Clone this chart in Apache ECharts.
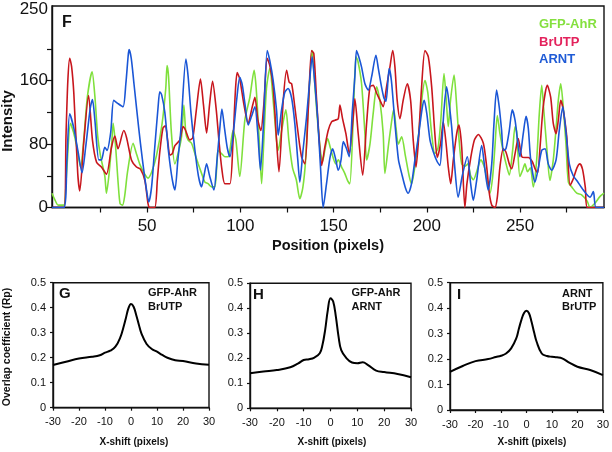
<!DOCTYPE html>
<html><head><meta charset="utf-8">
<script src="https://cdn.jsdelivr.net/npm/echarts@6/dist/echarts.min.js"></script>
<style>html,body{margin:0;padding:0;background:#fff}#c{width:612px;height:452px}</style>
</head><body><div id="c"></div>
<script>
// ---- Panel F: intensity profiles (position in pixels, intensity) ----
const gfpPos = [-1,0.5,2.3,5.3,6.8,8.9,10.5,12,14.3,16,18,20.5,22,23.5,25,27.3,28.2,29.5,31,31.8,33,34.5,35.5,36.8,38,39.5,42.5,44,46,48,50.5,52.5,55,58,60,60.7,61.5,63,64.9,67,68.5,69.7,70.8,72,73.8,75.6,77.4,79.2,81,82.7,84.5,86.3,87.3,88.1,89.9,91.7,93.5,96.1,97.6,99.7,102.4,105.1,107.4,108.5,110,111.4,112.5,114,115.8,117.6,119.4,120.3,122,124.4,126,128,130,131.9,133.5,135,136.5,138.5,139.5,141,143,144.1,145.5,146.8,148.3,151.2,152.5,154.3,156,157.5,158.7,160.5,162,163,165,166.8,167.7,169.5,171.2,173.1,174.8,176.6,177.5,179.5,181.5,182.3,183.5,184.7,186.5,188.5,190.5,191.8,193.5,195.5,197.5,199,200.5,202.5,204.3,206,207.5,209.2,210.3,211.5,212.7,214.6,215.8,217.3,218.7,220.5,222,223.5,225,226.7,229,231,233.8,235.3,236.5,237.8,239.2,241,242.5,244.2,246,247.3,248.2,249.9,251.5,252.6,254,255.5,257.1,258.9,260.3,261.6,262.8,264.3,266,267.8,269.3,270.5,271.8,273.2,274.6,275.9,278,280.4,283,286,287.5,290,292.9,295];
const gfpVal = [18,10,3,3,43,106,95,80,51,85,140,171,140,90,65,40,18,40,80,106,80,30,5,3,15,45,81,70,55,45,37,45,65,105,150,179,165,95,55,72,90,129,93,85,81,68,55,43,32,30,26,26,50,72,68,64,64,97,85,39,110,139,173,150,90,30,80,150,175,135,85,72,95,123,85,50,35,11,25,60,130,198,170,120,70,58,75,87,75,55,60,51,43,34,30,110,190,185,156,93,60,80,118,152,135,93,43,80,115,123,100,80,89,65,40,30,50,90,140,160,145,95,68,75,110,169,140,102,135,167,135,85,55,52,55,40,35,45,60,50,18,39,76,116,93,70,55,41,72,102,95,39,48,55,45,50,26,60,118,154,120,76,34,60,100,135,156,125,80,32,25,18,16,8,0,5,14,18];

const brutpPos = [-1,5.5,6.5,7.5,8.5,9.5,10.7,12.8,13.9,16,18.6,20.7,22.9,25.5,28.2,30.9,32.7,34.4,37.5,39,41.6,44.3,46.5,48.8,50.5,51.4,54.1,55.5,56.8,58.5,59.8,61,62.2,63.5,64.9,67.5,69.3,70.5,72.9,74.5,76.5,78.6,80.2,81.9,83.5,85.1,87,88.5,90,91.7,94.4,96,97.3,98.3,99.7,101.9,104.2,106.2,107.8,109.4,111,112.6,114.4,115.8,117.6,119.4,120.7,123,124.8,126.2,127.5,129.2,131,132.8,134.6,136.4,138.2,139.4,140.9,142.3,143.6,145.3,147.1,148.9,150.7,152.5,153.4,154.8,156.6,158.4,160.5,161.4,163.2,165.6,167.7,169.5,171.2,173.1,175.7,176.6,178.4,180.2,181.7,182.9,184.1,185.6,187.3,189.5,191.3,192.7,194.2,195.4,197.2,199,200.8,202.6,204.3,205.6,207.4,208.8,210.3,211.5,212.8,214.2,216,217.2,218.7,220.4,221.5,223.5,225.5,227.6,230.3,232.1,233.5,234.8,236.5,237.8,239.2,241,242.4,244.2,245.5,247.3,249,250.9,252.6,254.4,256.5,258,259.4,260.7,262.4,264.6,266.4,267.8,269.3,270.5,271.8,273,275,276.8,278.5,280.5,282.1,283.5,285,286.1,295];
const brutpVal = [0,0,90,160,188,178,144,43,21,81,141,85,57,51,42,76,90,74,97,88,60,51,48,34,5,0,0,35,70,100,103,85,66,68,78,85,102,98,85,88,125,162,130,94,130,159,125,85,50,30,30,80,145,170,162,130,106,125,139,110,97,130,188,179,152,85,45,135,173,158,156,127,93,64,55,123,198,194,135,85,53,76,97,108,110,112,129,112,93,68,114,137,93,41,106,152,154,144,131,127,152,177,198,177,135,112,135,156,135,85,51,81,152,198,190,152,93,63,81,108,81,51,30,60,93,104,76,0,30,62,85,92,81,51,18,3,0,13,51,74,70,55,49,68,87,64,63,63,58,49,44,76,127,154,139,106,93,110,135,125,90,28,36,50,55,48,25,0,0];

const arntPos = [-1,5.3,7,8.5,10.7,13,15.1,17,19.5,20.7,22,24.1,25.5,27.3,28.5,30.5,32.1,34.4,37.1,38.6,39.8,40.3,41.5,43,45.5,47.5,49.5,50.9,52.4,54.1,55.9,56.8,57.8,59.5,61.5,63.5,64.9,66.5,68,70.8,72,73.5,75.5,77.5,79.2,80.5,81.9,83.5,85.8,87.5,89,90.1,91.5,93,94.4,96.5,98,99.7,101,102.5,104.2,106,107.8,109.3,110.8,112.3,114.4,115.8,117.6,119.4,120.3,122.1,123.8,125.6,127.5,129.2,130.8,131.9,133.5,135.5,137,138.5,139.6,141.4,143,144.4,146.2,148,149.5,151,152.5,154,155.2,156.8,158.4,160,161.4,162.3,163.5,165,166.8,168.6,170.4,172.7,174,175.7,177,178.1,179.8,181,182.9,184.8,186.5,188.5,190,191.8,193.6,195.5,197.5,198.6,200,201.7,203.5,205.5,207,208.3,209.2,210.6,212,213.3,215,216.8,219,221.7,223.5,224.9,226.7,229.4,231.2,232.9,234.8,236,237.4,238.8,240.1,241,242.4,244.2,245.8,247.3,248.7,249.9,251.7,253.2,254.4,255.7,258,259.8,261.6,263.4,265.1,266.9,269.3,271,272.9,274.6,276.4,278.5,280.4,283.9,287.5,289.3,290.7,295];
const arntVal = [0,0,60,118,100,70,44,75,125,136,110,60,60,76,72,95,135,131,127,156,190,199,188,155,100,60,25,7,26,76,127,146,142,120,70,35,22,60,95,187,165,120,75,40,26,40,55,40,22,60,100,124,100,75,64,100,135,164,155,130,104,115,127,95,47,100,198,185,160,123,91,123,145,150,138,106,60,32,70,114,155,190,165,114,50,0,30,62,74,62,47,60,83,75,64,120,165,198,190,177,156,148,165,192,175,152,138,134,175,160,106,60,43,25,18,30,60,90,125,135,118,85,70,58,53,90,123,152,130,102,50,13,40,64,30,9,34,78,47,22,55,106,148,127,97,72,74,97,123,110,83,64,93,115,100,60,32,50,72,74,55,47,60,97,127,95,55,40,34,22,13,20,0,0];

const intensityTicks = [0, 40, 80, 120, 160, 200];
const intensityLabels = [0, 80, 160, 250];
const positionTicks = [25, 50, 75, 100, 125, 150, 175, 200, 225, 250, 275];
const positionLabels = [50, 100, 150, 200, 250];

// ---- Panels G, H, I: overlap coefficient vs x-shift ----
const shiftX = [-30,-25,-20,-15,-12,-10,-8,-6,-4,-3,-2,-1,0,1,2,3,4,6,8,10,12,14,17,20,25,30];
const rpG = [0.171,0.184,0.197,0.204,0.21,0.22,0.228,0.244,0.284,0.318,0.357,0.397,0.415,0.404,0.371,0.333,0.297,0.255,0.235,0.224,0.211,0.2,0.19,0.187,0.177,0.172];
const rpH = [0.14,0.147,0.153,0.164,0.18,0.193,0.196,0.203,0.22,0.253,0.313,0.393,0.44,0.427,0.367,0.287,0.233,0.2,0.183,0.18,0.184,0.173,0.151,0.145,0.137,0.124];
const rpI = [0.15,0.173,0.192,0.2,0.208,0.213,0.222,0.242,0.281,0.318,0.353,0.38,0.39,0.38,0.347,0.305,0.268,0.222,0.212,0.209,0.207,0.203,0.185,0.17,0.157,0.137];

const FONT = '"Liberation Sans", Arial, sans-serif';
const zip = (a, b) => a.map((v, i) => [v, b[i]]);

const grids = [
  {left: 52, top: 6, width: 552, height: 201.5},
  {left: 53, top: 282.7, width: 156, height: 125},
  {left: 250, top: 283.3, width: 161, height: 125},
  {left: 450, top: 282.7, width: 154, height: 127.3}
];
grids.forEach(g => Object.assign(g, {show: true, borderColor: '#111', borderWidth: 1.4, backgroundColor: 'transparent', containLabel: false}));

const axisLineStyle = {show: true, onZero: false, lineStyle: {color: '#111', width: 1.4}};

const xAxes = [
  {gridIndex: 0, type: 'value', min: -1, max: 295, splitLine: {show: false}, axisLine: axisLineStyle,
   axisTick: {show: true, length: 5, customValues: positionTicks, lineStyle: {color: '#111', width: 1.2}},
   axisLabel: {customValues: positionLabels, margin: 10, fontSize: 17, color: '#111', fontFamily: FONT}}
];
const yAxes = [
  {gridIndex: 0, type: 'value', min: 0, max: 254, splitLine: {show: false}, axisLine: axisLineStyle,
   axisTick: {show: true, length: 5, customValues: intensityTicks, lineStyle: {color: '#111', width: 1.2}},
   axisLabel: {customValues: intensityLabels, margin: 4, fontSize: 17, color: '#111', fontFamily: FONT}}
];
for (let k = 1; k <= 3; k++) {
  xAxes.push({gridIndex: k, type: 'value', min: -30, max: 30, interval: 10, splitLine: {show: false}, axisLine: axisLineStyle,
    axisTick: {show: true, length: 3, lineStyle: {color: '#111', width: 1.2}},
    axisLabel: {margin: 9, fontSize: 11, color: '#111', fontFamily: FONT, showMinLabel: true, showMaxLabel: true}});
  yAxes.push({gridIndex: k, type: 'value', min: 0, max: 0.5, interval: 0.1, splitLine: {show: false}, axisLine: axisLineStyle,
    axisTick: {show: true, length: 3, lineStyle: {color: '#111', width: 1.2}},
    axisLabel: {margin: 7, fontSize: 11, color: '#111', fontFamily: FONT}});
}

const lineF = (name, pos, val, color) => ({
  name, type: 'line', xAxisIndex: 0, yAxisIndex: 0, data: zip(pos, val), showSymbol: false, symbol: 'none',
  smooth: 0.25, lineStyle: {color, width: 1.6}, itemStyle: {color}, silent: true, animation: false, clip: true
});
const lineR = (idx, vals) => ({
  type: 'line', xAxisIndex: idx, yAxisIndex: idx, data: zip(shiftX, vals), showSymbol: false, symbol: 'none',
  smooth: 0.4, lineStyle: {color: '#000', width: 2}, silent: true, animation: false
});

const txt = (text, x, y, size, color, opts = {}) => ({
  type: 'text', x, y, rotation: opts.rot || 0, silent: true,
  style: {text, fill: color, font: `bold ${size}px ${FONT}`, textAlign: opts.align || 'left', textVerticalAlign: 'middle'}
});

const option = {
  animation: false,
  backgroundColor: '#fff',
  grid: grids,
  xAxis: xAxes,
  yAxis: yAxes,
  series: [
    lineF('GFP-AhR', gfpPos, gfpVal, '#7fe03c'),
    lineF('BrUTP', brutpPos, brutpVal, '#c8161d'),
    lineF('ARNT', arntPos, arntVal, '#1a56d6'),
    lineR(1, rpG), lineR(2, rpH), lineR(3, rpI)
  ],
  graphic: [
    txt('F', 62, 23, 16, '#111'),
    txt('GFP-AhR', 539, 24, 13, '#84e03e'),
    txt('BrUTP', 539, 42, 13, '#e3225c'),
    txt('ARNT', 539, 59.5, 13, '#1f5bd6'),
    txt('Intensity', 8, 121, 15, '#111', {rot: Math.PI / 2, align: 'center'}),
    txt('Position (pixels)', 328, 246, 14.5, '#111', {align: 'center'}),
    txt('Overlap coefficient (Rp)', 7.5, 347, 10.5, '#111', {rot: Math.PI / 2, align: 'center'}),
    txt('G', 59, 293.5, 15, '#111'),
    txt('GFP-AhR', 148, 293, 11, '#111'),
    txt('BrUTP', 148, 306.5, 11, '#111'),
    txt('H', 253, 294.5, 15, '#111'),
    txt('GFP-AhR', 351.5, 293, 11, '#111'),
    txt('ARNT', 351.5, 307, 11, '#111'),
    txt('I', 457, 295, 15, '#111'),
    txt('ARNT', 562, 293.5, 11, '#111'),
    txt('BrUTP', 562, 307, 11, '#111'),
    txt('X-shift (pixels)', 134, 442.5, 10, '#111', {align: 'center'}),
    txt('X-shift (pixels)', 332, 442.5, 10, '#111', {align: 'center'}),
    txt('X-shift (pixels)', 532, 442.5, 10, '#111', {align: 'center'})
  ]
};

const chart = echarts.init(document.getElementById('c'), null, {renderer: 'canvas'});
chart.setOption(option);
</script>
</body></html>
